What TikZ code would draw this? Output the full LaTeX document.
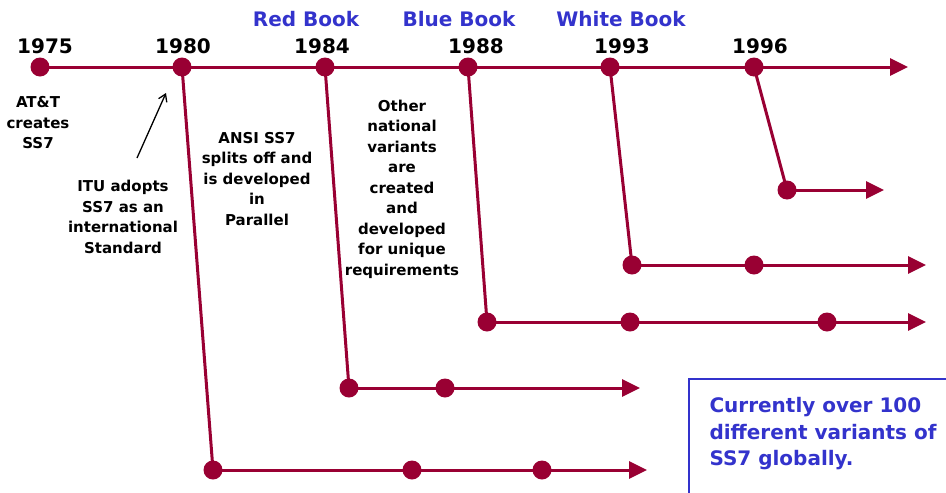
\documentclass[tikz,border=0pt]{standalone}
\usepackage{fontspec}
\setmainfont{DejaVu Sans}
\usepackage{tikz}
\usetikzlibrary{arrows.meta, positioning}
\definecolor{wine}{HTML}{990033}
\definecolor{bookblue}{HTML}{3333CC}

\begin{document}
\begin{tikzpicture}[
	x=1pt,
	y=-1pt,
	->,
	>={Triangle[length=18pt,width=17pt]},
	line width=3pt,
	draw=wine
]

\tikzstyle{dot}  = [circle, fill=wine, draw=none, minimum size=19pt, inner sep=0pt];
\tikzstyle{year} = [inner sep=0pt, font=\fontsize{20}{24}\selectfont\bfseries];
\tikzstyle{book} = [inner sep=0pt, text=bookblue, font=\fontsize{20}{24}\selectfont\bfseries];
\tikzstyle{note} = [inner sep=0pt, align=center, font=\fontsize{15}{20.5}\selectfont\bfseries];

 \useasboundingbox (0,0) rectangle (946,493);

 % main time line
 \node [dot] (d_75) at (40,67)  {};
 \node [dot] (d_80) at (182,67) {};
 \node [dot] (d_84) at (325,67) {};
 \node [dot] (d_88) at (468,67) {};
 \node [dot] (d_93) at (610,67) {};
 \node [dot] (d_96) at (754,67) {};
 \coordinate (e_main) at (908,67);

 \node [year] (y_75) at (45,46)  {1975};
 \node [year] (y_80) at (183,46) {1980};
 \node [year] (y_84) at (322,46) {1984};
 \node [year] (y_88) at (476,46) {1988};
 \node [year] (y_93) at (622,46) {1993};
 \node [year] (y_96) at (760,46) {1996};

 \node [book] (red)   at (306,19) {Red Book};
 \node [book] (blue)  at (459,19) {Blue Book};
 \node [book] (white) at (621,19) {White Book};

 % branches
 \node [dot] (b_80a) at (213,470) {};
 \node [dot] (b_80b) at (412,470) {};
 \node [dot] (b_80c) at (542,470) {};
 \coordinate (e_80) at (647,470);

 \node [dot] (b_84a) at (349,388) {};
 \node [dot] (b_84b) at (445,388) {};
 \coordinate (e_84) at (640,388);

 \node [dot] (b_88a) at (487,322) {};
 \node [dot] (b_88b) at (630,322) {};
 \node [dot] (b_88c) at (827,322) {};
 \coordinate (e_88) at (926,322);

 \node [dot] (b_93a) at (632,265) {};
 \node [dot] (b_93b) at (754,265) {};
 \coordinate (e_93) at (926,265);

 \node [dot] (b_96a) at (787,190) {};
 \coordinate (e_96) at (884,190);

 \path [-] (d_75.center) edge (d_96.center)
           (d_80.center) edge (b_80a.center)
           (d_84.center) edge (b_84a.center)
           (d_88.center) edge (b_88a.center)
           (d_93.center) edge (b_93a.center)
           (d_96.center) edge (b_96a.center);

 \path [->] (d_96.center)  edge (e_main)
            (b_80a.center) edge (e_80)
            (b_84a.center) edge (e_84)
            (b_88a.center) edge (e_88)
            (b_93a.center) edge (e_93)
            (b_96a.center) edge (e_96);

 % notes
 \node [note] (att)   at (38,123)  {AT\&T\\creates\\SS7};
 \node [note] (itu)   at (123,217) {ITU adopts\\SS7 as an\\international\\Standard};
 \node [note] (ansi)  at (257,179) {ANSI SS7\\splits off and\\is developed\\in\\Parallel};
 \node [note] (other) at (402,189) {Other\\national\\variants\\are\\created\\and\\developed\\for unique\\requirements};

 \coordinate (itu_tail) at (137,158);
 \coordinate (itu_head) at (166,93);
 \draw [black, line width=1.3pt, -{Straight Barb[length=7pt,width=9pt]}] (itu_tail) -- (itu_head);

 \node [draw=bookblue, line width=2pt, anchor=north west, minimum width=262pt,
        minimum height=116pt] (box) at (688,378) {};
 \node [inner sep=0pt, anchor=west, align=left, text=bookblue,
        font=\fontsize{20}{26.5}\selectfont\bfseries] (count) at (708,434)
        {Currently over 100\\different variants of\\SS7 globally.};

\end{tikzpicture}
\end{document}
